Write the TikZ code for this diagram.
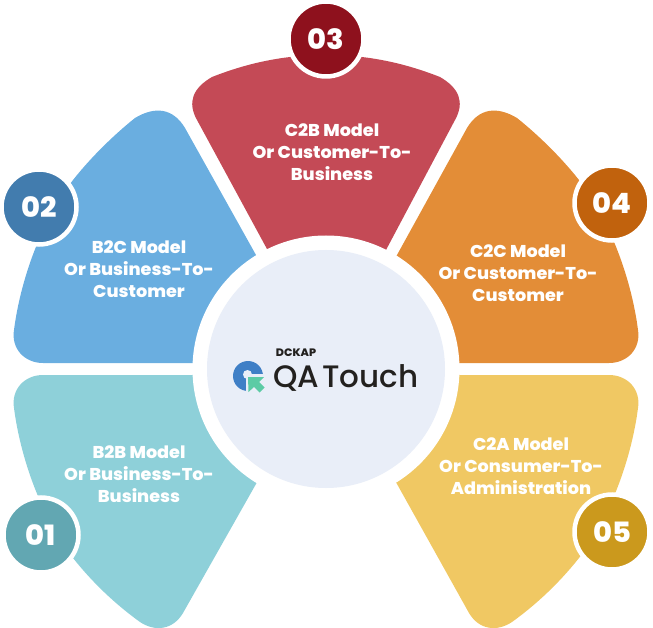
\documentclass[tikz,border=0pt]{standalone}
\usepackage{fontspec}
\setmainfont{Poppins ExtraBold}[FakeStretch=1.03]
\newfontfamily\logofont{Poppins Medium}
\usetikzlibrary{positioning}
\definecolor{tealpetal}{HTML}{8ED0D9}
\definecolor{tealdark}{HTML}{62A7B2}
\definecolor{bluepetal}{HTML}{6AAEE0}
\definecolor{bluedark}{HTML}{427CAE}
\definecolor{redpetal}{HTML}{C44A56}
\definecolor{reddark}{HTML}{8E111D}
\definecolor{orangepetal}{HTML}{E38D37}
\definecolor{orangedark}{HTML}{C1620D}
\definecolor{yellowpetal}{HTML}{F0C863}
\definecolor{yellowdark}{HTML}{CB991D}
\definecolor{hubfill}{HTML}{E9EEF8}
\definecolor{logoblue}{HTML}{3F7FC6}
\definecolor{logogreen}{HTML}{5CCBA5}
\definecolor{logoink}{HTML}{23211F}
\tikzset{
	petaltext/.style={text=white, font=\fontsize{17.1}{22}\selectfont, align=center},
	numdisc/.style={circle, draw=white, line width=4.5pt, minimum size=75pt, inner sep=0pt,
		text=white, font=\fontsize{28}{28}\selectfont},
}
\begin{document}
\begin{tikzpicture}[x=1pt,y=-1pt]
	\useasboundingbox (0,0) rectangle (653,628);
	% petals
	\fill[tealpetal] (192,375) -- (43,375) .. controls (24,375) and (11,390) .. (14,408)
		.. controls (20,455) and (40,515) .. (73,558) .. controls (92,582) and (115,604) .. (140,622)
		.. controls (155,632) and (173,630) .. (183,613) -- (256,484) -- (326,369) -- cycle;
	\fill[bluepetal] (192,363) -- (43,363) .. controls (24,363) and (11,348) .. (14,330)
		.. controls (20,283) and (40,223) .. (73,180) .. controls (92,156) and (115,134) .. (135,118)
		.. controls (155,106) and (173,108) .. (185,128) -- (256,255) -- (326,369) -- cycle;
	\fill[redpetal] (267,249) -- (197,120) .. controls (187,102) and (193,88) .. (212,77)
		.. controls (240,66) and (265,60) .. (290,57) .. controls (315,53) and (338,53) .. (362,57)
		.. controls (387,60) and (412,66) .. (440,77) .. controls (459,88) and (465,102) .. (455,120)
		-- (386,250) -- (326,369) -- cycle;
	\fill[orangepetal] (460,363) -- (609,363) .. controls (628,363) and (641,348) .. (638,330)
		.. controls (632,283) and (612,223) .. (579,180) .. controls (560,156) and (537,134) .. (517,118)
		.. controls (497,106) and (479,108) .. (467,128) -- (397,255) -- (326,369) -- cycle;
	\fill[yellowpetal] (460,375) -- (609,375) .. controls (628,375) and (641,390) .. (638,408)
		.. controls (632,455) and (612,515) .. (579,558) .. controls (560,582) and (537,604) .. (512,622)
		.. controls (497,632) and (479,630) .. (469,613) -- (397,484) -- (326,369) -- cycle;
	% middle
	\fill[white] (326,369) circle (133.5);
	\node[circle, fill=hubfill, minimum size=238pt, inner sep=0pt] (hub) at (326,369) {};
	% logo
	\fill[logoblue] (248,376) circle (15);
	\fill[hubfill] (247.5,374.5) circle (4.5);
	\fill[hubfill] (246,376.5) rectangle (266,395);
	\fill[hubfill] (247.5,374) rectangle (266,376.5);
	\fill[logogreen] (248,377) -- (264,377) -- (259,382) -- (264.5,387.5) -- (259.5,392.5)
		-- (254,387) -- (248.5,392) -- cycle;
	\node[text=logoink, font=\logofont\fontsize{31}{31}\selectfont, inner sep=0pt] (qatouch) at (346,378) {QA\hspace{-5pt} Touch};
	\node[text=logoink, font=\fontsize{10.8}{11}\selectfont, inner sep=0pt] (dckap) at (296,353) {DCKAP};
	% labels
	\node[petaltext] (b2b) at (139,474) {B2B Model\\Or Business-To-\\Business};
	\node[petaltext] (b2c) at (139,269) {B2C Model\\Or Business-To-\\Customer};
	\node[petaltext] (c2b) at (332,152) {C2B Model\\Or Customer-To-\\Business};
	\node[petaltext] (c2c) at (518,273) {C2C Model\\Or Customer-To-\\Customer};
	\node[petaltext] (c2a) at (521,466) {C2A Model\\Or Consumer-To-\\Administration};
	% numbers
	\node[numdisc, fill=tealdark] (n01) at (41,535) {01};
	\node[numdisc, fill=bluedark] (n02) at (39,207) {02};
	\node[numdisc, fill=reddark] (n03) at (326,39) {03};
	\node[numdisc, fill=orangedark] (n04) at (612,203) {04};
	\node[numdisc, fill=yellowdark] (n05) at (612,532) {05};
\end{tikzpicture}
\end{document}
